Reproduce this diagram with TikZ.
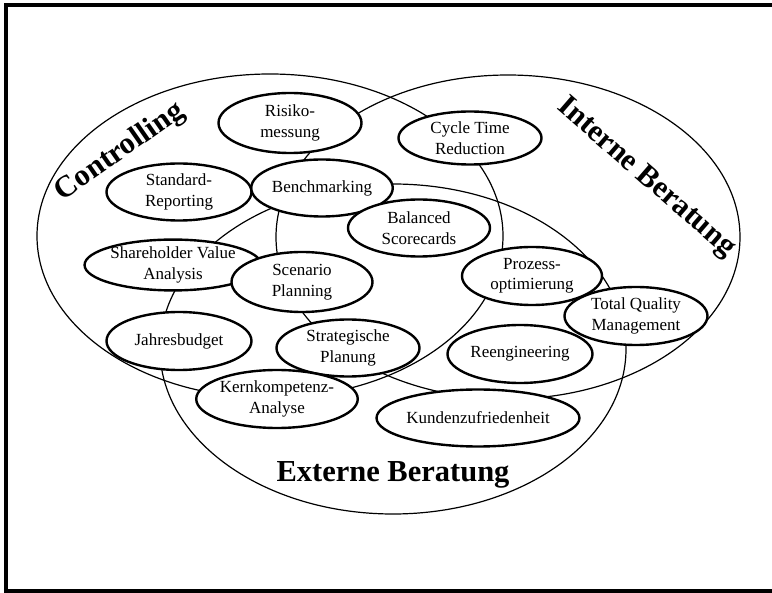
\documentclass[tikz,border=0pt]{standalone}
\usepackage{fontspec}
\setmainfont{Liberation Serif}
\usetikzlibrary{shapes.geometric}
\begin{document}
\begin{tikzpicture}[x=1pt,y=-1pt,
  area/.style={line width=1.2pt},
  item/.style={ellipse,draw,fill=white,line width=2.4pt,minimum width=143pt,
    minimum height=57pt,inner sep=0pt,align=center,font=\fontsize{17}{20.5}\selectfont},
  title/.style={font=\bfseries\fontsize{30.5}{31}\selectfont,inner sep=0pt}]
\useasboundingbox (0,0) rectangle (772,593);
\draw[line width=3.5pt] (772,5) -- (6,5) -- (6,591) -- (772,591);
% the three fields
\draw[area] (270,236) ellipse [x radius=233, y radius=162];
\draw[area] (508,237) ellipse [x radius=232, y radius=162];
\draw[area] (393,349) ellipse [x radius=233, y radius=165];
%\draw[area] (393,349) ellipse [x radius=230, y radius=160];
\node[item,minimum height=60pt] (risiko) at (290,123) {Risiko-\\messung};
\node[item,minimum height=53pt] (cycle) at (470,138) {Cycle Time\\Reduction};
\node[item,minimum width=145pt] (standard) at (179,192) {Standard-\\Reporting};
\node[item,minimum width=141pt] (bench) at (322,188) {Benchmarking};
\node[item,minimum width=142pt] (balanced) at (419,228) {Balanced\\Scorecards};
\node[item,minimum height=50pt] (share) at (173,265) {Shareholder Value\\Analysis};
\node[item,minimum width=141pt,minimum height=60pt] (scenario) at (302,282) {Scenario\\Planning};
\node[item,minimum width=140pt,minimum height=58pt] (prozess) at (532,276) {Prozess-\\optimierung};
\node[item,minimum height=58pt] (tqm) at (636,316) {Total Quality\\Management};
\node[item,minimum width=145pt,minimum height=58pt] (jahres) at (179,341) {Jahresbudget};
\node[item] (strat) at (348,348) {Strategische\\Planung};
\node[item,minimum width=145pt,minimum height=58pt] (reeng) at (520,354) {Reengineering};
\node[item,minimum height=58pt] (kern) at (277,399) {Kernkompetenz-\\Analyse};
\node[item,minimum width=163pt] (kunden) at (478,418) {Kundenzufriedenheit};
% field names
\node[title,rotate=35] (controlling) at (120,152) {Controlling};
\node[title,rotate=-41] (interne) at (646,178) {Interne Beratung};
\node[title,anchor=base] (externe) at (393,482) {Externe Beratung};
\end{tikzpicture}
\end{document}
